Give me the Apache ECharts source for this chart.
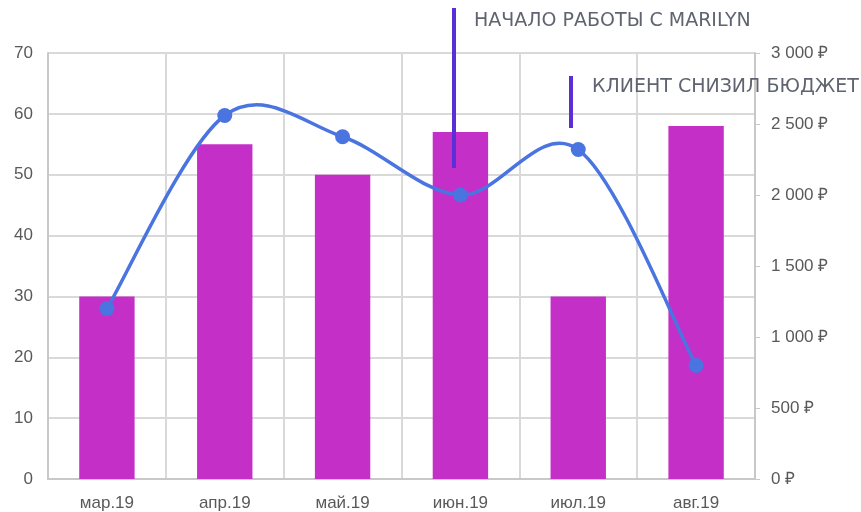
<!DOCTYPE html>
<html><head><meta charset="utf-8">
<script src="https://cdn.jsdelivr.net/npm/echarts@6/dist/echarts.min.js"></script>
<style>html,body{margin:0;padding:0;background:#fff}#c{width:861px;height:512px}</style>
</head><body><div id="c"></div>
<script>
const categories = ['мар.19','апр.19','май.19','июн.19','июл.19','авг.19'];
const barValues = [30, 55, 50, 57, 30, 58];
const lineValues = [1200, 2560, 2410, 2000, 2320, 800];
const annotations = ['НАЧАЛО РАБОТЫ С MARILYN', 'КЛИЕНТ СНИЗИЛ БЮДЖЕТ'];

const chart = echarts.init(document.getElementById('c'), null, {renderer:'canvas'});
const labelFont = {color:'#595959', fontSize:17, fontFamily:'Liberation Sans'};

// Catmull-Rom style smooth curve (Excel-like) through the data, drawn via the axes' scales
function renderCurve(params, api) {
  if (params.dataIndex !== 0) return null;
  const pts = lineValues.map((v, i) => api.coord([i, v]));
  const n = pts.length;
  let d = 'M' + pts[0][0] + ' ' + pts[0][1];
  for (let i = 0; i < n - 1; i++) {
    const p0 = pts[Math.max(i - 1, 0)], p1 = pts[i], p2 = pts[i + 1], p3 = pts[Math.min(i + 2, n - 1)];
    const c1x = p1[0] + (p2[0] - p0[0]) / 6, c1y = p1[1] + (p2[1] - p0[1]) / 6;
    const c2x = p2[0] - (p3[0] - p1[0]) / 6, c2y = p2[1] - (p3[1] - p1[1]) / 6;
    d += ' C' + c1x + ' ' + c1y + ' ' + c2x + ' ' + c2y + ' ' + p2[0] + ' ' + p2[1];
  }
  return {type:'path', shape:{pathData:d}, style:{stroke:'#4a74e0', lineWidth:3.5, fill:null}, z2:1};
}

chart.setOption({
  animation:false,
  grid:{left:48, right:106, top:53, bottom:32},
  xAxis:{type:'category', data:categories,
    axisLine:{lineStyle:{color:'#c8c8c8', width:2}}, axisTick:{show:false},
    axisLabel:Object.assign({margin:16}, labelFont),
    splitLine:{show:true, lineStyle:{color:'#d9d9d9', width:2}}},
  yAxis:[
    {type:'value', min:0, max:70, interval:10, position:'left',
     axisLine:{show:true, lineStyle:{color:'#c8c8c8', width:2}}, axisTick:{show:false},
     axisLabel:Object.assign({margin:15}, labelFont),
     splitLine:{lineStyle:{color:'#d9d9d9', width:2}}},
    {type:'value', min:0, max:3000, interval:500, position:'right',
     axisLine:{show:true, lineStyle:{color:'#c8c8c8', width:2}},
     axisTick:{show:true, length:5, lineStyle:{color:'#c8c8c8'}},
     axisLabel:Object.assign({margin:16, formatter:v=>String(v).replace(/\B(?=(\d{3})+(?!\d))/g,' ')+' ₽'}, labelFont),
     splitLine:{show:false}}
  ],
  series:[
    {type:'bar', data:barValues, barWidth:'47%', itemStyle:{color:'#c42fc8'}, yAxisIndex:0},
    {type:'custom', yAxisIndex:1, data:lineValues.map((v,i)=>[i,v]), renderItem:renderCurve, z:3, silent:true},
    {type:'line', data:lineValues, yAxisIndex:1, symbol:'circle', symbolSize:15, z:4,
     lineStyle:{opacity:0}, itemStyle:{color:'#4a74e0'}}
  ],
  graphic:[
    {type:'line', shape:{x1:454,y1:8,x2:454,y2:168}, style:{stroke:'#5a2fd6', lineWidth:4}, z:10},
    {type:'line', shape:{x1:571,y1:76,x2:571,y2:128}, style:{stroke:'#5a2fd6', lineWidth:4}, z:10},
    {type:'text', left:474, top:12, z:10, style:{text:annotations[0], fill:'#5f6470', font:'19px "DejaVu Sans"'}},
    {type:'text', left:592, top:78, z:10, style:{text:annotations[1], fill:'#5f6470', font:'19px "DejaVu Sans"'}}
  ]
});
</script></body></html>
